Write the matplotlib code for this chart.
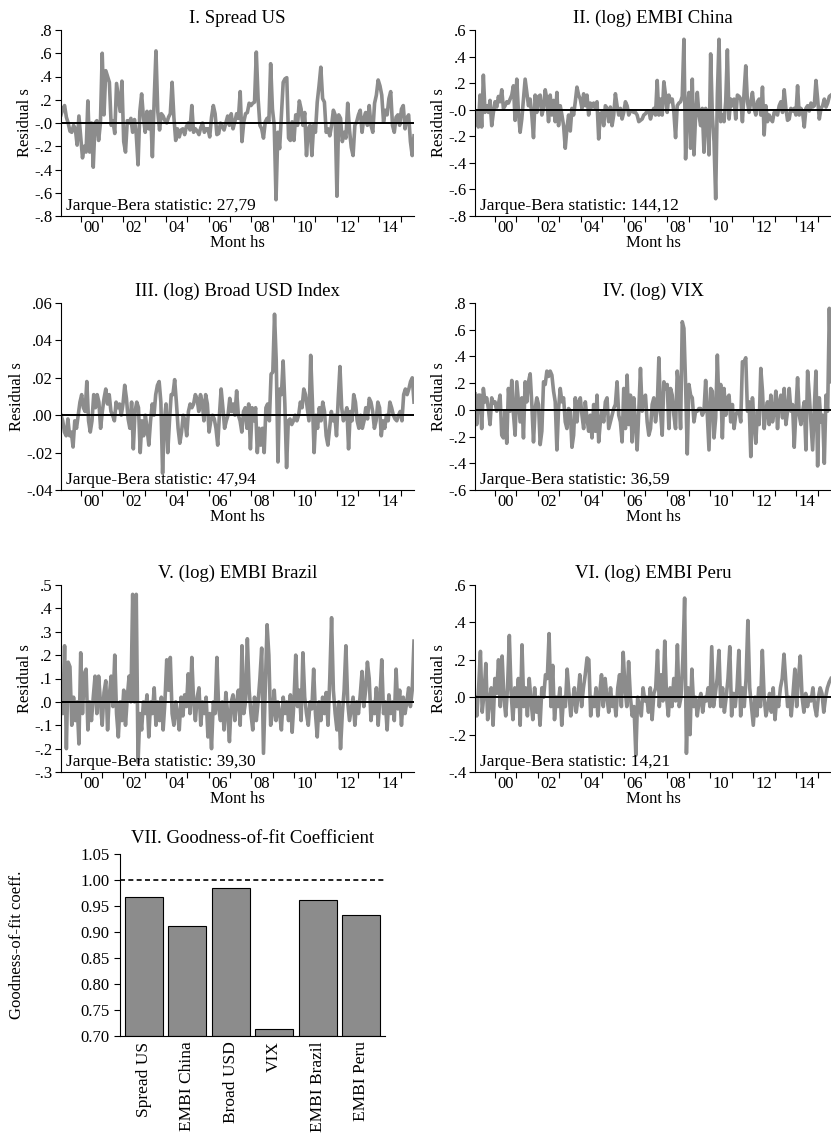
import numpy as np
import matplotlib
matplotlib.use("Agg")
import matplotlib.pyplot as plt

plt.rcParams['font.family'] = ['Liberation Serif', 'DejaVu Serif']

# sample period (decimal years)
t_start = 1999.08
t_end = 2015.62

spread_us = [0.07,0.12,0.15,0.05,0.0,-0.07,-0.08,-0.02,-0.05,-0.19,0.06,-0.12,-0.30,-0.20,-0.25,0.19,-0.25,0.0,-0.38,0.0,
             0.02,-0.15,0.0,0.60,0.07,0.45,0.40,0.35,-0.02,0.02,-0.09,0.34,0.22,0.10,0.36,-0.16,-0.25,0.02,0.0,0.04,
             -0.08,0.03,-0.10,-0.36,0.10,0.25,0.05,-0.08,0.10,-0.05,0.10,-0.29,0.20,0.62,0.10,-0.06,0.08,0.06,0.02,0.0,
             0.05,0.08,0.35,0.05,-0.15,-0.05,-0.12,-0.06,-0.05,-0.10,-0.03,0.0,-0.06,0.15,-0.08,-0.05,-0.07,-0.10,-0.04,0.0,
             -0.08,-0.05,-0.05,-0.12,0.05,0.15,0.08,-0.10,-0.09,0.0,-0.03,-0.06,0.0,0.06,-0.02,
             0.08,-0.05,0.01,0.08,0.04,0.27,-0.16,0.01,0.08,0.09,0.17,0.15,0.17,0.18,0.61,0.21,-0.02,-0.05,-0.13,0.01,
             0.04,0.01,0.51,0.12,-0.02,-0.66,-0.08,-0.22,0.07,0.35,0.38,0.39,-0.13,-0.15,0.01,-0.15,0.07,-0.02,0.19,0.12,
             -0.02,0.09,-0.28,-0.05,-0.02,-0.28,-0.02,-0.08,0.18,0.32,0.48,0.21,0.18,-0.08,-0.05,-0.11,-0.02,0.11,0.07,-0.63,
             0.07,0.04,-0.16,-0.08,-0.13,0.17,-0.06,-0.21,-0.28,-0.02,0.01,0.07,0.11,-0.08,0.04,0.09,-0.02,0.15,-0.02,-0.08,
             0.17,0.24,0.37,0.32,0.24,0.01,0.11,0.07,0.21,0.27,-0.02,-0.08,0.05,0.07,-0.02,0.12,0.15,-0.05,0.04,0.07,
             -0.16,-0.28,-0.11]

embi_china = [-0.08,-0.02,-0.13,0.11,-0.13,0.26,-0.02,0.03,-0.02,0.07,-0.12,-0.02,0.06,0.02,0.10,0.06,0.15,0.01,0.03,0.06,
              0.05,0.08,0.11,0.18,-0.08,0.23,-0.02,-0.17,-0.07,0.08,0.23,0.13,0.03,0.08,-0.04,-0.21,0.11,-0.02,0.10,0.11,
              -0.04,0.01,0.15,0.08,-0.09,0.11,-0.04,0.07,-0.09,0.13,-0.12,0.03,-0.04,-0.12,-0.29,-0.14,-0.04,-0.16,0.01,-0.04,
              0.06,0.17,0.11,0.08,0.01,0.12,0.03,0.11,-0.04,0.05,0.02,0.05,0.01,0.06,-0.22,-0.03,-0.02,-0.12,0.03,0.01,
              -0.09,0.02,-0.12,-0.04,0.12,0.03,-0.04,0.01,-0.07,-0.02,0.06,0.03,-0.04,-0.01,-0.01,-0.02,-0.02,-0.04,-0.09,-0.08,
              -0.07,-0.04,-0.03,-0.01,-0.01,
              -0.07,-0.02,0.01,-0.04,0.22,-0.04,0.08,-0.04,0.21,0.11,-0.02,0.11,0.06,0.08,-0.02,-0.21,0.03,0.05,0.06,0.10,
              0.53,-0.37,0.01,0.13,-0.29,0.23,-0.34,-0.04,0.13,-0.04,-0.12,0.01,-0.32,0.01,-0.04,-0.34,0.42,-0.04,-0.24,-0.67,
              0.11,0.53,-0.09,-0.04,-0.09,0.06,0.45,-0.07,0.08,0.03,0.08,-0.07,0.11,0.10,0.08,-0.09,0.13,0.33,0.06,-0.02,
              0.06,0.13,0.01,-0.04,0.06,0.08,-0.04,0.17,-0.19,0.03,-0.09,-0.04,-0.07,-0.09,-0.02,-0.02,-0.04,0.03,0.06,-0.02,
              0.15,0.01,-0.08,-0.07,0.01,-0.01,0.01,-0.04,0.18,-0.04,0.01,-0.02,-0.13,0.01,0.03,-0.01,0.05,0.02,0.03,0.22,
              0.08,-0.07,0.01,0.03,0.08,0.02,0.05,0.10,0.11]

broad_usd = [0.000,-0.003,-0.009,-0.011,-0.002,-0.011,-0.009,-0.017,-0.003,-0.007,0.000,0.007,0.011,0.004,0.002,0.018,-0.003,-0.009,-0.003,0.011,
             0.004,0.011,0.007,-0.007,0.002,0.009,0.014,0.006,0.011,0.002,0.000,-0.003,0.007,0.004,0.006,0.000,0.006,0.016,0.009,-0.002,
             -0.007,0.007,-0.018,0.002,0.007,0.004,-0.020,-0.003,-0.011,0.000,-0.007,-0.016,-0.003,0.006,0.000,0.011,0.016,0.018,0.007,-0.031,
             -0.003,0.006,-0.020,-0.003,0.011,0.011,0.019,0.007,-0.007,-0.015,-0.009,0.000,-0.003,-0.011,0.002,0.006,0.004,0.006,0.011,0.009,
             0.002,0.011,0.007,-0.003,0.011,0.006,-0.009,-0.003,0.000,-0.002,-0.007,-0.016,0.000,0.014,0.004,-0.007,-0.003,0.000,0.009,0.002,
             0.006,0.000,
             0.013,0.000,-0.003,-0.009,0.002,0.004,-0.007,0.006,-0.018,0.004,-0.003,0.004,-0.020,-0.007,-0.016,-0.007,-0.020,0.004,0.006,-0.003,
             0.022,0.023,0.054,0.029,-0.025,0.014,0.011,0.029,0.006,-0.028,-0.003,-0.002,-0.005,-0.003,0.000,-0.003,0.000,0.007,0.004,0.014,
             0.011,0.004,-0.003,0.032,0.007,-0.020,0.000,-0.007,0.004,-0.003,0.007,0.002,-0.011,-0.016,-0.007,0.002,-0.003,0.000,-0.011,0.009,
             0.026,0.004,-0.003,0.000,0.004,-0.018,0.002,-0.003,0.011,0.007,-0.003,-0.007,0.000,-0.007,-0.003,0.004,-0.002,0.009,0.007,0.002,
             -0.007,-0.003,0.007,0.004,-0.011,-0.003,-0.007,0.000,-0.003,0.007,0.004,0.000,-0.002,-0.003,0.000,0.002,-0.003,0.011,0.014,0.011,
             0.014,0.018,0.020,0.007]

vix = [0.12,-0.11,0.11,0.11,-0.14,0.16,0.06,0.09,0.01,-0.11,0.09,0.05,0.06,-0.01,0.04,0.11,-0.19,-0.21,-0.01,-0.25,
       0.16,-0.01,0.22,-0.03,-0.19,0.21,0.06,-0.09,0.09,-0.21,0.21,0.06,0.21,0.27,0.04,-0.24,0.01,0.09,0.04,-0.26,
       -0.16,0.21,0.19,0.29,0.25,0.29,0.26,0.14,0.06,-0.30,0.01,0.16,0.06,0.09,-0.09,-0.14,0.01,-0.01,-0.28,-0.19,
       0.09,-0.09,0.06,0.09,-0.04,-0.14,0.06,-0.06,-0.16,-0.04,-0.21,0.04,-0.16,0.11,-0.24,-0.09,-0.01,-0.09,0.06,0.09,
       -0.14,-0.09,-0.04,0.01,0.04,0.21,-0.04,-0.09,-0.24,0.16,-0.14,0.26,-0.11,0.11,-0.24,0.09,-0.09,-0.30,-0.01,0.31,
       -0.01,0.09,0.11,-0.09,-0.19,
       -0.14,0.04,0.09,-0.09,0.01,0.39,-0.01,-0.19,0.21,0.16,0.19,-0.14,0.16,0.11,-0.04,-0.14,0.29,0.16,-0.14,0.66,
       0.61,0.19,-0.33,0.19,0.11,0.09,-0.09,-0.01,-0.01,0.01,0.01,-0.04,-0.01,0.22,-0.04,-0.30,0.16,0.14,-0.21,-0.06,
       0.41,0.01,0.19,-0.21,0.16,-0.04,0.09,0.11,-0.09,0.04,-0.14,-0.04,-0.01,-0.01,-0.09,0.36,0.36,0.39,-0.01,0.06,
       -0.35,0.09,-0.09,-0.25,-0.01,-0.11,0.31,0.14,-0.14,-0.01,0.06,-0.11,0.11,-0.09,-0.01,0.14,-0.14,0.06,0.11,-0.06,
       0.16,-0.11,-0.01,0.16,-0.01,0.04,-0.28,-0.01,0.24,-0.04,-0.11,-0.01,0.06,-0.30,0.29,0.11,-0.09,-0.30,0.01,0.29,
       -0.42,0.09,-0.09,-0.04,-0.40,0.11,-0.01,0.76,0.21]

embi_brazil = [0.0,-0.05,0.24,-0.2,0.17,0.15,-0.1,0.02,-0.08,0.0,-0.18,0.21,-0.05,0.12,0.14,-0.12,0.0,-0.08,0.02,0.11,
               -0.05,0.11,0.0,-0.1,0.04,0.09,-0.12,0.03,0.11,-0.02,0.2,-0.05,-0.15,0.0,-0.08,0.05,-0.1,0.02,0.11,0.0,
               0.46,0.0,0.46,-0.26,-0.05,-0.12,0.0,-0.05,0.03,-0.15,0.0,-0.05,0.06,-0.1,0.0,-0.08,0.02,-0.12,0.0,0.18,
               0.05,0.19,-0.05,-0.1,0.0,-0.05,-0.12,0.02,-0.06,0.03,-0.02,0.12,-0.05,0.19,0.0,-0.08,0.02,0.06,-0.1,0.0,
               -0.05,0.02,-0.15,-0.05,-0.2,0.0,-0.05,0.19,-0.03,-0.08,0.0,-0.12,0.04,-0.05,-0.17,0.0,0.03,-0.08,0.0,0.05,
               -0.1,0.24,-0.05,0.0,0.27,0.05,-0.05,-0.12,0.02,-0.08,0.0,0.1,0.23,-0.22,0.05,0.33,0.2,-0.1,-0.05,0.05,
               -0.08,0.0,-0.05,-0.12,0.02,-0.05,0.0,-0.08,0.03,-0.13,0.0,0.2,-0.02,0.05,-0.08,0.21,0.02,-0.05,-0.1,0.0,
               -0.03,0.14,-0.05,-0.15,0.0,-0.08,0.02,-0.05,0.04,-0.1,0.1,0.36,0.05,-0.05,-0.12,0.0,-0.2,-0.05,0.05,0.24,
               0.0,-0.08,-0.03,0.02,-0.1,0.0,-0.05,0.03,0.13,-0.02,0.05,0.17,0.1,-0.08,0.0,-0.05,0.06,-0.1,0.02,0.18,
               -0.05,0.0,-0.12,0.03,-0.05,0.0,-0.08,0.14,-0.03,0.05,-0.1,0.02,-0.05,0.0,0.06,-0.02,0.05,0.26]

embi_peru = [0.0,-0.1,0.05,0.245,-0.08,0.02,0.18,-0.12,-0.02,0.05,-0.15,0.1,0.02,0.2,-0.05,0.22,0.0,-0.1,0.05,0.33,
             0.02,-0.12,0.05,-0.05,0.1,-0.15,0.28,-0.05,0.05,-0.1,0.1,-0.02,-0.12,0.05,-0.08,0.0,-0.15,0.05,0.0,0.12,
             0.1,0.34,-0.05,0.17,-0.12,0.0,-0.05,0.05,-0.15,0.0,-0.05,0.15,0.02,-0.1,-0.02,0.05,-0.08,0.0,0.12,-0.05,
             0.05,0.12,0.21,0.2,-0.1,0.0,-0.05,0.05,-0.1,0.02,0.12,-0.05,0.1,0.0,-0.08,0.05,-0.05,0.0,-0.1,0.05,
             0.12,-0.05,0.24,0.05,-0.05,0.19,0.0,-0.1,-0.05,-0.31,0.0,-0.05,-0.1,0.05,-0.02,0.0,-0.08,0.05,-0.12,0.02,
             0.05,0.25,-0.05,0.12,-0.02,0.30,0.0,-0.1,0.05,-0.05,0.1,-0.02,0.28,-0.05,0.0,0.2,0.53,-0.3,0.05,-0.2,
             0.15,-0.05,0.0,-0.1,-0.02,0.02,-0.08,0.0,-0.02,0.05,-0.05,0.27,-0.05,0.02,0.1,0.25,-0.05,0.05,-0.08,0.0,
             0.1,0.27,-0.1,0.02,-0.05,0.05,0.25,-0.1,0.05,-0.05,0.1,0.41,0.05,-0.05,-0.15,0.0,-0.1,0.05,-0.05,0.25,
             0.0,-0.1,-0.05,0.02,-0.08,0.05,-0.12,0.0,-0.05,0.05,0.1,0.23,0.08,-0.05,0.0,-0.1,0.02,0.15,-0.05,0.1,
             0.22,0.0,-0.08,0.02,-0.05,0.0,-0.02,0.05,-0.05,-0.1,0.0,0.05,0.02,-0.08,0.0,0.05,0.08,0.1]

titles = ["I. Spread US", "II. (log) EMBI China", "III. (log) Broad USD Index",
          "IV. (log) VIX", "V. (log) EMBI Brazil", "VI. (log) EMBI Peru"]
jb_stats = ["27,79", "144,12", "47,94", "36,59", "39,30", "14,21"]
series = [spread_us, embi_china, broad_usd, vix, embi_brazil, embi_peru]
y_ranges = [(-0.8, 0.8, 0.2, 1), (-0.8, 0.6, 0.2, 1), (-0.04, 0.06, 0.02, 2),
            (-0.6, 0.8, 0.2, 1), (-0.3, 0.5, 0.1, 1), (-0.4, 0.6, 0.2, 1)]

bar_labels = ["Spread US", "EMBI China", "Broad USD", "VIX", "EMBI Brazil", "EMBI Peru"]
gof = [0.968, 0.911, 0.985, 0.713, 0.961, 0.933]

W, H = 831, 1142
fig = plt.figure(figsize=(W / 100, H / 100), dpi=100)

# axes boxes in pixels: left, top, right, bottom
cols = [(61, 414), (475, 831)]
rows = [(30, 216), (303, 490), (585, 772)]

line_col = '#8c8c8c'


def fmt(v, d):
    s = f"{v:.{d}f}"
    if s.startswith("-0."):
        s = "-" + s[2:]
    elif s.startswith("0."):
        s = s[1:]
    return s


for k in range(6):
    r, c = divmod(k, 2)
    x0, x1 = cols[c]
    y0, y1 = rows[r]
    ax = fig.add_axes([x0 / W, 1 - y1 / H, (x1 - x0) / W, (y1 - y0) / H])
    vals = np.array(series[k])
    t = np.linspace(t_start, t_end, len(vals))
    ax.plot(t, vals, color=line_col, lw=2.6, solid_joinstyle='round', zorder=2)
    ax.axhline(0, color='black', lw=1.4, zorder=3)
    lo, hi, step, dec = y_ranges[k]
    ticks = np.arange(lo, hi + step / 2, step)
    ax.set_ylim(lo, hi)
    ax.set_yticks(ticks)
    ax.set_yticklabels([fmt(v, dec) for v in ticks])
    ax.set_xlim(t_start, t_end)
    ax.set_xticks(np.arange(2000, 2016, 1), minor=True)
    ax.set_xticks(np.arange(2000, 2016, 2) + 0.5)
    ax.set_xticklabels([f"{y % 100:02d}" for y in range(2000, 2016, 2)])
    ax.tick_params(axis='x', which='major', length=0, labelsize=12, pad=3)
    ax.tick_params(axis='x', which='minor', length=4, width=0.8, direction='out')
    ax.tick_params(axis='y', length=4, width=0.8, direction='out', labelsize=12, pad=2)
    for s in ['top', 'right']:
        ax.spines[s].set_visible(False)
    for s in ['left', 'bottom']:
        ax.spines[s].set_linewidth(0.8)
    ax.set_title(titles[k], fontsize=13.5, pad=5)
    ax.set_ylabel("Residual s", fontsize=12, labelpad=1)
    ax.set_xlabel("Mont hs", fontsize=12, labelpad=-1)
    ax.text(0.015, 0.01, "Jarque-Bera statistic: " + jb_stats[k], transform=ax.transAxes,
            fontsize=12.5, ha='left', va='bottom')

# goodness-of-fit bar chart
bx0, by0, bx1, by1 = 120, 854, 385, 1036
axb = fig.add_axes([bx0 / W, 1 - by1 / H, (bx1 - bx0) / W, (by1 - by0) / H])
xb = np.arange(len(gof))
axb.bar(xb, np.array(gof) - 0.70, bottom=0.70, width=0.88, color='#8c8c8c', edgecolor='black', linewidth=0.8)
axb.axhline(1.0, color='black', lw=1.2, ls=(0, (3, 2)))
axb.set_ylim(0.70, 1.05)
axb.set_xlim(-0.55, len(gof) - 0.45)
yt = np.arange(0.70, 1.051, 0.05)
axb.set_yticks(yt)
axb.set_yticklabels([f"{v:.2f}" for v in yt])
axb.set_xticks(xb)
axb.set_xticklabels(bar_labels, rotation=90)
axb.tick_params(axis='x', length=0, labelsize=12.5, pad=4)
axb.tick_params(axis='y', length=4, width=0.8, labelsize=12)
for s in ['top', 'right']:
    axb.spines[s].set_visible(False)
axb.set_title("VII. Goodness-of-fit Coefficient", fontsize=13.5, pad=8)
axb.set_ylabel("Goodness-of-fit coeff.", fontsize=12)
axb.yaxis.set_label_coords(-0.36, 0.5)

fig.savefig("out.png", dpi=100)
